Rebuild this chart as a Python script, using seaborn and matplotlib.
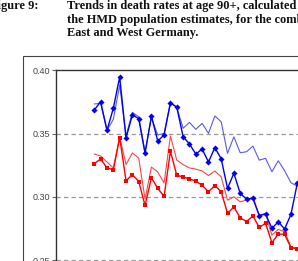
import numpy as np
import pandas as pd
import matplotlib
matplotlib.use("Agg")
import matplotlib.pyplot as plt
from matplotlib.patches import Rectangle
import seaborn as sns

# death rates at age 90+, one value per year (33 years)
years = list(range(1959, 1992))

blue_marked = [0.3687, 0.3752, 0.3526, 0.3700, 0.3947, 0.3465, 0.3649, 0.3618,
               0.3344, 0.3639, 0.3442, 0.3489, 0.3744, 0.3708, 0.3476, 0.3418,
               0.3339, 0.3378, 0.3276, 0.3389, 0.3302, 0.3068, 0.3187, 0.3028,
               0.2983, 0.2989, 0.2852, 0.2865, 0.2752, 0.2804, 0.2747, 0.2863,
               0.3108]
blue_thin = [0.3734, 0.3739, 0.3526, 0.3613, 0.3884, 0.3481, 0.3668, 0.3633,
             0.3355, 0.3627, 0.3489, 0.3502, 0.3744, 0.3708, 0.3542, 0.3589,
             0.3534, 0.3581, 0.3502, 0.3639, 0.3594, 0.3344, 0.3475, 0.3349,
             0.3357, 0.3402, 0.3291, 0.3305, 0.3199, 0.3286, 0.3207, 0.3112,
             0.3086]
red_marked = [0.3264, 0.3300, 0.3230, 0.3214, 0.3468, 0.3128, 0.3177, 0.3122,
              0.2933, 0.3152, 0.3068, 0.3005, 0.3361, 0.3171, 0.3158, 0.3142,
              0.3126, 0.3092, 0.3042, 0.3089, 0.3042, 0.2871, 0.2921, 0.2836,
              0.2805, 0.2850, 0.2760, 0.2792, 0.2639, 0.2708, 0.2705, 0.2599,
              0.2592]
red_thin = [0.3339, 0.3323, 0.3276, 0.3229, 0.3473, 0.3256, 0.3347, 0.3307,
            0.2983, 0.3236, 0.3197, 0.3110, 0.3481, 0.3291, 0.3256, 0.3229,
            0.3220, 0.3205, 0.3169, 0.3205, 0.3159, 0.2975, 0.3001, 0.2962,
            0.2975, 0.3001, 0.2857, 0.2870, 0.2699, 0.2744, 0.2725, 0.2606,
            0.2591]

y_ticks = [0.25, 0.30, 0.35, 0.40]
y_labels = ["0.25", "0.30", "0.35", "0.40"]

df = pd.DataFrame({"year": years, "blue": blue_marked, "blue_thin": blue_thin,
                   "red": red_marked, "red_thin": red_thin})

sns.set_style("white")
plt.rcParams['font.family'] = ['Liberation Sans', 'DejaVu Sans']

W, H = 298, 261
fig = plt.figure(figsize=(W / 100, H / 100), dpi=100)

# axes placed in pixel terms; bottom and right run past the cropped edges
left_px, top_px = 56, 70.3
px_per_year = 6.344
x0 = years[0] - (94.3 - left_px) / px_per_year
x1 = years[-1] + 1
right_px = 297.3 + (x1 - years[-1]) * px_per_year
px_per_unit = 63.33 / 0.05
y0, y1 = 0.20, 0.40
bottom_px = top_px + (y1 - y0) * px_per_unit
ax = fig.add_axes([left_px / W, 1 - bottom_px / H,
                   (right_px - left_px) / W, (bottom_px - top_px) / H])

sns.lineplot(data=df, x="year", y="blue_thin", ax=ax, color="#5a5ae6", lw=0.8)
sns.lineplot(data=df, x="year", y="red_thin", ax=ax, color="#f04a4a", lw=0.8)
sns.lineplot(data=df, x="year", y="red", ax=ax, color="#ff0000", lw=1.0,
             marker="s", markersize=3.3, markeredgewidth=0)
sns.lineplot(data=df, x="year", y="blue", ax=ax, color="#0000ee", lw=1.0,
             marker="D", markersize=3.1, markeredgewidth=0)

ax.set_xlim(x0, x1)
ax.set_ylim(y0, y1)
ax.set_xticks([])
ax.set_yticks(y_ticks)
ax.set_yticklabels(y_labels, fontsize=6.5, color="#444444")
ax.set_xlabel("")
ax.set_ylabel("")
ax.tick_params(axis="y", left=True, length=3, width=0.8, color="#666666", pad=1.5)
for yv in y_ticks[:-1]:
    ax.axhline(yv, color="#9a9a9a", lw=0.9, ls=(0, (3.5, 2.5)), zorder=0)
for s in ["right", "bottom"]:
    ax.spines[s].set_visible(False)
for s in ["left", "top"]:
    ax.spines[s].set_color("#333333")
    ax.spines[s].set_linewidth(1.0)

# outer chart frame
fig.patches.append(Rectangle((23 / W, -0.2), 1.2, (H - 55.5) / H + 0.2,
                             transform=fig.transFigure, fill=False,
                             edgecolor="#444444", lw=0.8))

# caption above the chart
tkw = dict(fontsize=8.9, fontweight="bold", family=["Liberation Serif"],
           va="baseline", color="#111111")
fig.text(39 / W, 1 - 9.5 / H, "Figure 9:", ha="right", **tkw)
fig.text(67 / W, 1 - 9.5 / H, "Trends in death rates at age 90+, calculated using", ha="left", **tkw)
fig.text(67 / W, 1 - 23 / H, "the HMD population estimates, for the combined", ha="left", **tkw)
fig.text(67 / W, 1 - 36 / H, "East and West Germany.", ha="left", **tkw)

fig.savefig("out.png", dpi=100)
